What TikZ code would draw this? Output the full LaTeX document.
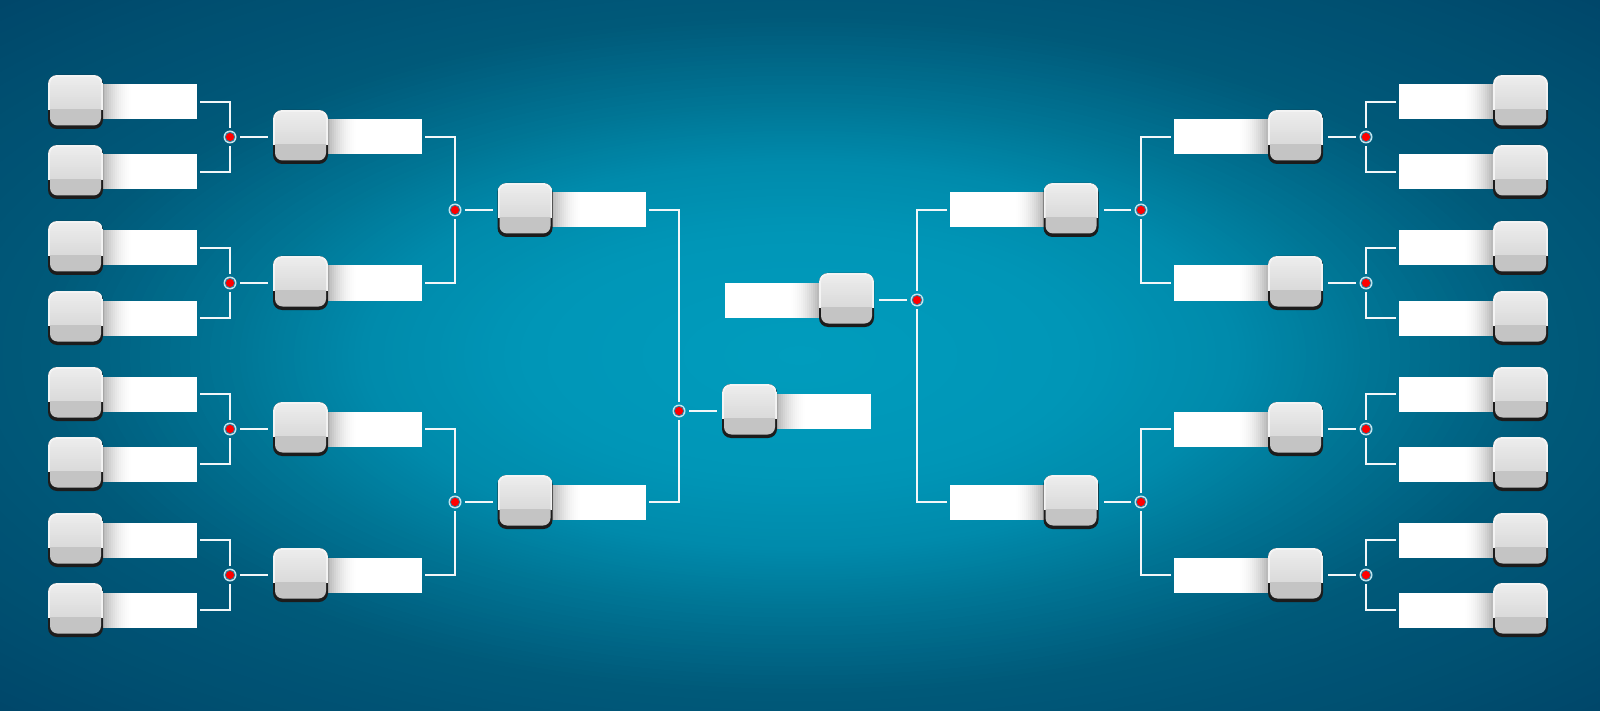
\documentclass[tikz,border=0pt]{standalone}
\usetikzlibrary{calc}
\definecolor{bg0}{HTML}{009CBD}
\definecolor{bgA}{HTML}{0096B7}
\definecolor{bgB}{HTML}{008AAB}
\definecolor{bgC}{HTML}{007797}
\definecolor{bgD}{HTML}{005A7A}
\definecolor{bgE}{HTML}{00476A}
\definecolor{sqdark}{HTML}{1C1C1C}
\definecolor{sqrim}{HTML}{F4F4F4}
\definecolor{facetop}{HTML}{EDEDED}
\definecolor{facemid}{HTML}{DADADA}
\definecolor{facelo}{HTML}{C4C4C4}
\definecolor{barsh}{HTML}{B0B0B0}
\definecolor{wirec}{HTML}{F2F7F9}
\definecolor{dotring}{HTML}{C4E6F0}
\definecolor{dotband}{HTML}{2F7E9C}
\definecolor{dotred}{HTML}{FF0000}
\tikzset{
  sq/.style={minimum width=55pt, minimum height=54pt, inner sep=0pt, outer sep=0pt,
    rounded corners=9pt, fill=sqdark,
    path picture={
      \fill[sharp corners, sqrim] (path picture bounding box.north west) rectangle ([yshift=19pt]path picture bounding box.south east);
      \begin{scope}
        \clip[rounded corners=7.5pt] ([shift={(2pt,-2pt)}]path picture bounding box.north west) rectangle ([shift={(-2pt,3.5pt)}]path picture bounding box.south east);
        \foreach \k in {0,...,16} {
          \pgfmathsetmacro\p{100-\k*6}
          \pgfmathsetmacro\ya{2*\k}
          \fill[sharp corners, facetop!\p!facemid] ([yshift=-\ya pt]path picture bounding box.north west) rectangle ([yshift=-\ya pt-2.3pt]path picture bounding box.north east);
        }
        \fill[sharp corners, facelo] ([yshift=20pt]path picture bounding box.south west) rectangle (path picture bounding box.south east);
      \end{scope}
    }},
  barbase/.style={minimum width=96pt, minimum height=35pt, inner sep=0pt, outer sep=0pt, fill=white},
  barL/.style={barbase, anchor=west,
    path picture={\foreach \k in {0,...,15} {
        \pgfmathsetmacro\p{100*(1-\k/16)^2}
        \pgfmathsetmacro\xa{2*\k}
        \fill[sharp corners, barsh!\p!white] ([xshift=\xa pt]path picture bounding box.south west) rectangle ([xshift=\xa pt+2.3pt]path picture bounding box.north west);}}},
  barR/.style={barbase, anchor=east,
    path picture={\foreach \k in {0,...,15} {
        \pgfmathsetmacro\p{100*(1-\k/16)^2}
        \pgfmathsetmacro\xa{-2*\k}
        \fill[sharp corners, barsh!\p!white] ([xshift=\xa pt]path picture bounding box.south east) rectangle ([xshift=\xa pt-2.3pt]path picture bounding box.north east);}}},
  dot/.style={circle, minimum size=13pt, inner sep=0pt, outer sep=0pt, fill=dotring,
    path picture={\fill[dotband] (path picture bounding box.center) circle (5.2pt);
      \fill[dotred] (path picture bounding box.center) circle (4.1pt);}},
  wire/.style={draw=wirec, line width=2pt, shorten <=3pt, shorten >=2.5pt},
  tobox/.style={draw=wirec, line width=2pt, shorten <=3.5pt, shorten >=5pt},
}
\begin{document}
\begin{tikzpicture}[x=1pt,y=-1pt]
\useasboundingbox (0,0) rectangle (1600,711);
\fill[bgE] (0,0) rectangle (1600,711);
\begin{scope}
\clip (0,0) rectangle (1600,711);
\foreach \ra/\rb/\ca/\cb in {0.95/1.42/bgD/bgE, 0.7/0.95/bgC/bgD, 0.55/0.7/bgB/bgC, 0.35/0.55/bgA/bgB, 0.01/0.35/bg0/bgA} {
  \foreach \k in {0,...,20} {
    \pgfmathsetmacro\r{\rb-(\rb-\ra)*\k/20}
    \pgfmathsetmacro\p{100*\k/20}
    \pgfmathsetmacro\rx{800*\r}
    \pgfmathsetmacro\ry{355.5*\r}
    \fill[\ca!\p!\cb] (800,355.5) ellipse [x radius=\rx pt, y radius=\ry pt];
  }
}
\end{scope}
% round 1
\foreach \i/\y in {1/102,2/172,3/248,4/318,5/394,6/464,7/540,8/610} {
  \node[barL] (LA\i) at (101,\y) {};
  \node[barR] (RA\i) at (1495,\y) {};
  \node[sq] (LAb\i) at (75.5,\y) {};
  \node[sq] (RAb\i) at (1520.5,\y) {};
}
% round 2
\foreach \i/\y/\a/\b in {1/137/1/2,2/283/3/4,3/429/5/6,4/575/7/8} {
  \node[dot] (Ld\i) at (230,\y) {};
  \node[dot] (Rd\i) at (1366,\y) {};
  \node[barL] (LB\i) at (326,\y) {};
  \node[barR] (RB\i) at (1270,\y) {};
  \node[sq] (LBb\i) at (300.5,\y) {};
  \node[sq] (RBb\i) at (1295.5,\y) {};
  \draw[wire] (LA\a.east) -| (Ld\i);
  \draw[wire] (LA\b.east) -| (Ld\i);
  \draw[tobox] (Ld\i) -- (LBb\i);
  \draw[wire] (RA\a.west) -| (Rd\i);
  \draw[wire] (RA\b.west) -| (Rd\i);
  \draw[tobox] (Rd\i) -- (RBb\i);
}
% round 3
\foreach \i/\y/\a/\b in {1/210/1/2,2/502/3/4} {
  \node[dot] (Le\i) at (455,\y) {};
  \node[dot] (Re\i) at (1141,\y) {};
  \node[barL] (LC\i) at (550,\y) {};
  \node[barR] (RC\i) at (1046,\y) {};
  \node[sq] (LCb\i) at (525,\y) {};
  \node[sq] (RCb\i) at (1071,\y) {};
  \draw[wire] (LB\a.east) -| (Le\i);
  \draw[wire] (LB\b.east) -| (Le\i);
  \draw[tobox] (Le\i) -- (LCb\i);
  \draw[wire] (RB\a.west) -| (Re\i);
  \draw[wire] (RB\b.west) -| (Re\i);
  \draw[tobox] (Re\i) -- (RCb\i);
}
% final
\node[dot] (Lf) at (679,411) {};
\node[dot] (Rf) at (917,300) {};
\node[barL] (FLbar) at (775,411) {};
\node[barR] (FRbar) at (821,300) {};
\node[sq] (FL) at (749.5,411) {};
\node[sq] (FR) at (846.5,300) {};
\draw[wire] (LC1.east) -| (Lf);
\draw[wire] (LC2.east) -| (Lf);
\draw[tobox] (Lf) -- (FL);
\draw[wire] (RC1.west) -| (Rf);
\draw[wire] (RC2.west) -| (Rf);
\draw[tobox] (Rf) -- (FR);
\end{tikzpicture}
\end{document}
